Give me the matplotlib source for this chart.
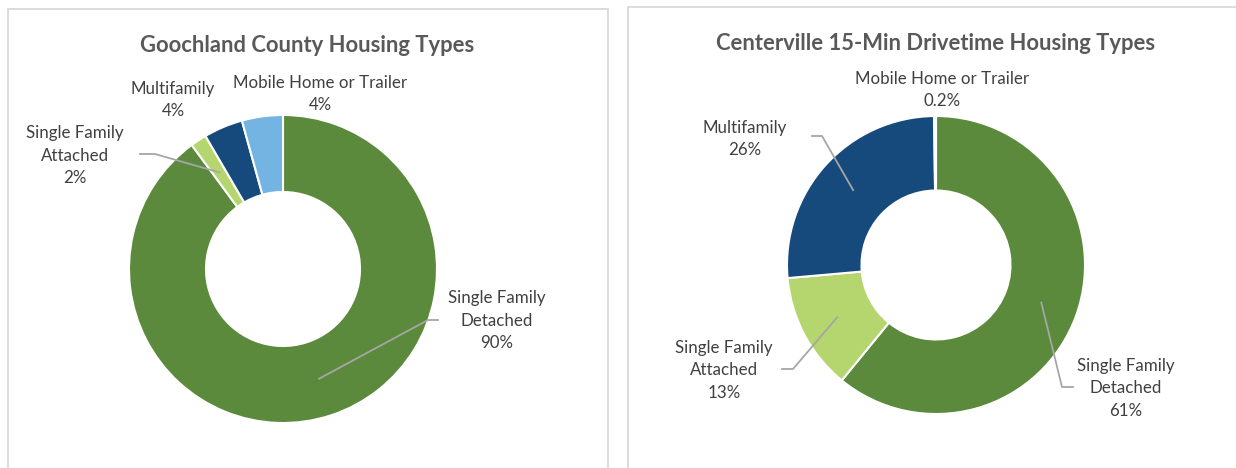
import numpy as np
import matplotlib.pyplot as plt
from matplotlib.patches import Rectangle

plt.rcParams['font.family'] = ['Lato', 'DejaVu Sans']

W, H = 1236, 468

# housing type shares (clockwise from 12 o'clock)
names = ['Single Family\nDetached', 'Single Family\nAttached', 'Multifamily', 'Mobile Home or Trailer']
goochland = [89.9, 1.7, 4.1, 4.3]
goochland_pct = ['90%', '2%', '4%', '4%']
centerville = [60.9, 12.7, 26.2, 0.2]
centerville_pct = ['61%', '13%', '26%', '0.2%']
colors = ['#5B8A3C', '#B5D56F', '#174A7C', '#73B4E3']

TXT = '#404040'
LINE = '#A6A6A6'

fig = plt.figure(figsize=(W / 100, H / 100), dpi=100)

# panel frames
for x0, y0, x1 in [(8, 9, 608), (628, 7, 1240)]:
    fig.add_artist(Rectangle((x0 / W, 0 - 0.02), (x1 - x0) / W, 1 - y0 / H + 0.02,
                             transform=fig.transFigure, fill=False,
                             edgecolor='#D9D9D9', linewidth=1.3))


def donut(cx, cy, r, values, pcts, title, tx, ty, labels):
    ax = fig.add_axes([(cx - r) / W, 1 - (cy + r) / H, 2 * r / W, 2 * r / H])
    wedges, _ = ax.pie(values, colors=colors, startangle=90, counterclock=False,
                       radius=1, wedgeprops=dict(width=0.5, edgecolor='white', linewidth=1.5))
    ax.set_xlim(-1, 1)
    ax.set_ylim(-1, 1)
    ax.axis('off')
    fig.text(tx / W, 1 - ty / H, title, ha='center', va='center',
             fontsize=15.8, fontweight='bold', color='#595959')
    for i, (lx, ly, lead) in labels.items():
        fig.text(lx / W, 1 - ly / H, names[i] + '\n' + pcts[i], ha='center', va='center',
                 fontsize=12.2, color=TXT, linespacing=1.5)
        if lead is None:
            continue
        w = wedges[i]
        mid = np.deg2rad((w.theta1 + w.theta2) / 2)
        px, py = 0.75 * np.cos(mid), 0.75 * np.sin(mid)
        x0, x1, yl = lead
        xs = [(x0 - cx) / r, (x1 - cx) / r, px]
        ys = [(cy - yl) / r, (cy - yl) / r, py]
        ax.plot(xs, ys, color=LINE, linewidth=1.3, clip_on=False)


donut(283, 269, 154, goochland, goochland_pct, 'Goochland County Housing Types', 307, 45,
      {0: (497, 321, (438, 428, 320)),
       1: (75, 156, (140, 155, 154)),
       2: (173, 100, None),
       3: (320, 94, None)})

donut(936, 265, 149, centerville, centerville_pct, 'Centerville 15-Min Drivetime Housing Types', 936, 43,
      {0: (1126, 388, (1073, 1062, 387)),
       1: (724, 370, (782, 793, 369)),
       2: (745, 139, (812, 822, 136)),
       3: (942, 90, None)})

fig.savefig('out.png', dpi=100)
